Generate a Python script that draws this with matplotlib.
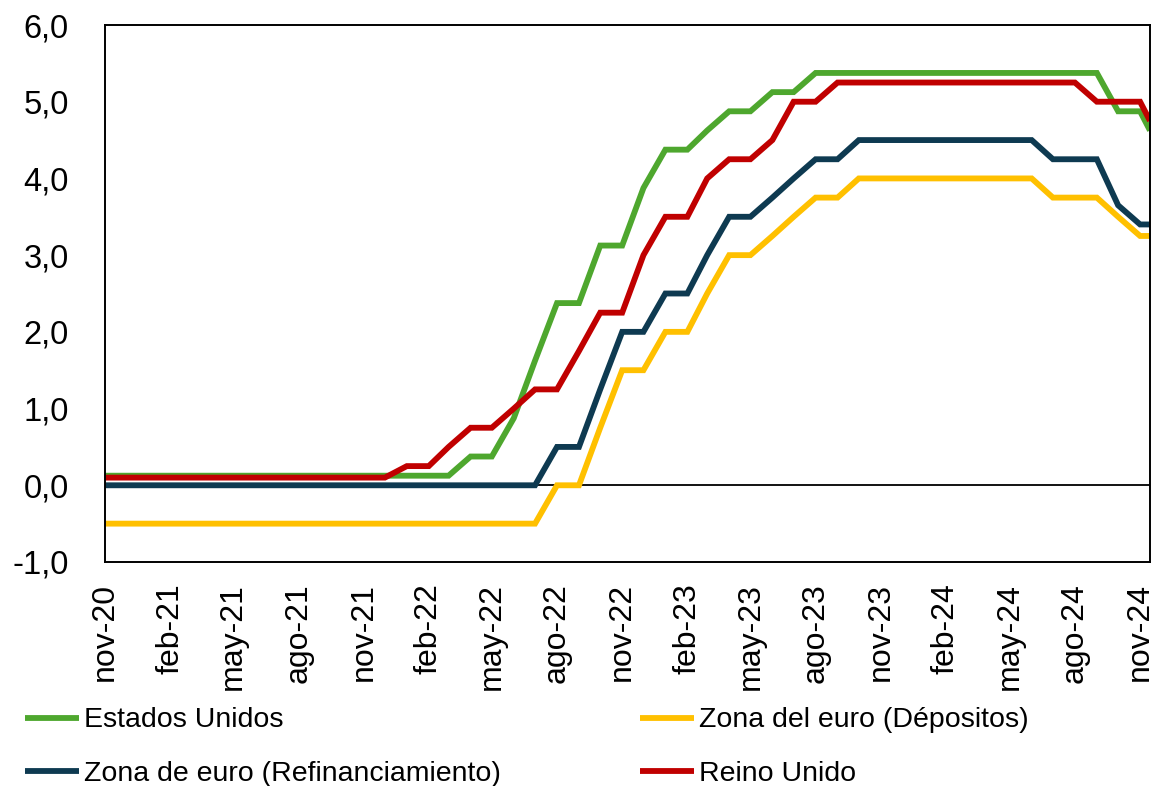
import matplotlib
matplotlib.use("Agg")
import matplotlib.pyplot as plt
import matplotlib.dates as mdates
import pandas as pd

# ---- data ----
dates = list(pd.date_range("2020-11-01", "2024-11-01", freq="MS")) + [pd.Timestamp("2024-11-15")]

estados_unidos = [0.125] * 17 + [0.375, 0.375, 0.875, 1.625, 2.375, 2.375, 3.125, 3.125, 3.875,
                                 4.375, 4.375, 4.625, 4.875, 4.875, 5.125, 5.125] + [5.375] * 14 + [4.875, 4.875, 4.625]
zona_euro_depositos = [-0.5] * 21 + [0.0, 0.0, 0.75, 1.5, 1.5, 2.0, 2.0, 2.5, 3.0, 3.0, 3.25, 3.5, 3.75, 3.75] + \
    [4.0] * 9 + [3.75, 3.75, 3.75, 3.5, 3.25, 3.25]
zona_euro_refi = [0.0] * 21 + [0.5, 0.5, 1.25, 2.0, 2.0, 2.5, 2.5, 3.0, 3.5, 3.5, 3.75, 4.0, 4.25, 4.25] + \
    [4.5] * 9 + [4.25, 4.25, 4.25, 3.65, 3.40, 3.40]
reino_unido = [0.1] * 14 + [0.25, 0.25, 0.5, 0.75, 0.75, 1.0, 1.25, 1.25, 1.75, 2.25, 2.25, 3.0, 3.5, 3.5,
                            4.0, 4.25, 4.25, 4.5, 5.0, 5.0] + [5.25] * 12 + [5.0, 5.0, 5.0, 4.75]

labels = ["Estados Unidos", "Zona del euro (Dépositos)", "Zona de euro (Refinanciamiento)", "Reino Unido"]
colors = ["#4EA72E", "#FFC000", "#0E3A51", "#C00000"]

xtick_dates = ["2020-11-01", "2021-02-01", "2021-05-01", "2021-08-01", "2021-11-01", "2022-02-01",
               "2022-05-01", "2022-08-01", "2022-11-01", "2023-02-01", "2023-05-01", "2023-08-01",
               "2023-11-01", "2024-02-01", "2024-05-01", "2024-08-01", "2024-11-01"]
xtick_labels = ["nov-20", "feb-21", "may-21", "ago-21", "nov-21", "feb-22", "may-22", "ago-22", "nov-22",
                "feb-23", "may-23", "ago-23", "nov-23", "feb-24", "may-24", "ago-24", "nov-24"]
ytick_values = [-1, 0, 1, 2, 3, 4, 5, 6]
ytick_labels = ["-1,0", "0,0", "1,0", "2,0", "3,0", "4,0", "5,0", "6,0"]

# ---- figure ----
fig = plt.figure(figsize=(11.53, 7.86), dpi=100)
ax = fig.add_axes([105 / 1153, 1 - 562 / 786, 1045 / 1153, 537 / 786])

series = [estados_unidos, zona_euro_depositos, zona_euro_refi, reino_unido]
lines = []
for vals, lab, col in zip(series, labels, colors):
    ln, = ax.plot(dates, vals, color=col, lw=4.2, label=lab, solid_joinstyle="miter", solid_capstyle="butt")
    lines.append(ln)

ax.axhline(0, color="black", lw=1.3, zorder=1)

ax.set_xlim(dates[0], dates[-1])
ax.set_ylim(-1, 6)

ax.set_xticks([mdates.date2num(pd.Timestamp(d)) for d in xtick_dates])
ax.set_xticklabels(xtick_labels, rotation=90, family="Liberation Sans", size=23)
ax.set_yticks(ytick_values)
ax.set_yticklabels(ytick_labels, family="Liberation Sans", size=23.5)
ax.tick_params(axis="x", length=0, pad=15)
ax.tick_params(axis="y", length=0, pad=26)
for t in ax.get_xticklabels():
    t.set_clip_on(False)

for sp in ax.spines.values():
    sp.set_color("black")
    sp.set_linewidth(1.4)

leg_font = {"family": "Liberation Sans", "size": 20.5}
leg_kw = dict(frameon=False, borderpad=0, borderaxespad=0, handlelength=1.9, handletextpad=0.18,
              labelspacing=0.95, prop=leg_font, loc="center left", bbox_transform=fig.transFigure)
leg1 = fig.legend([lines[0], lines[2]], [labels[0], labels[2]], bbox_to_anchor=(25 / 1153, 1 - 747 / 786), **leg_kw)
leg2 = fig.legend([lines[1], lines[3]], [labels[1], labels[3]], bbox_to_anchor=(640 / 1153, 1 - 747 / 786), **leg_kw)

fig.savefig("out.png", dpi=100)
